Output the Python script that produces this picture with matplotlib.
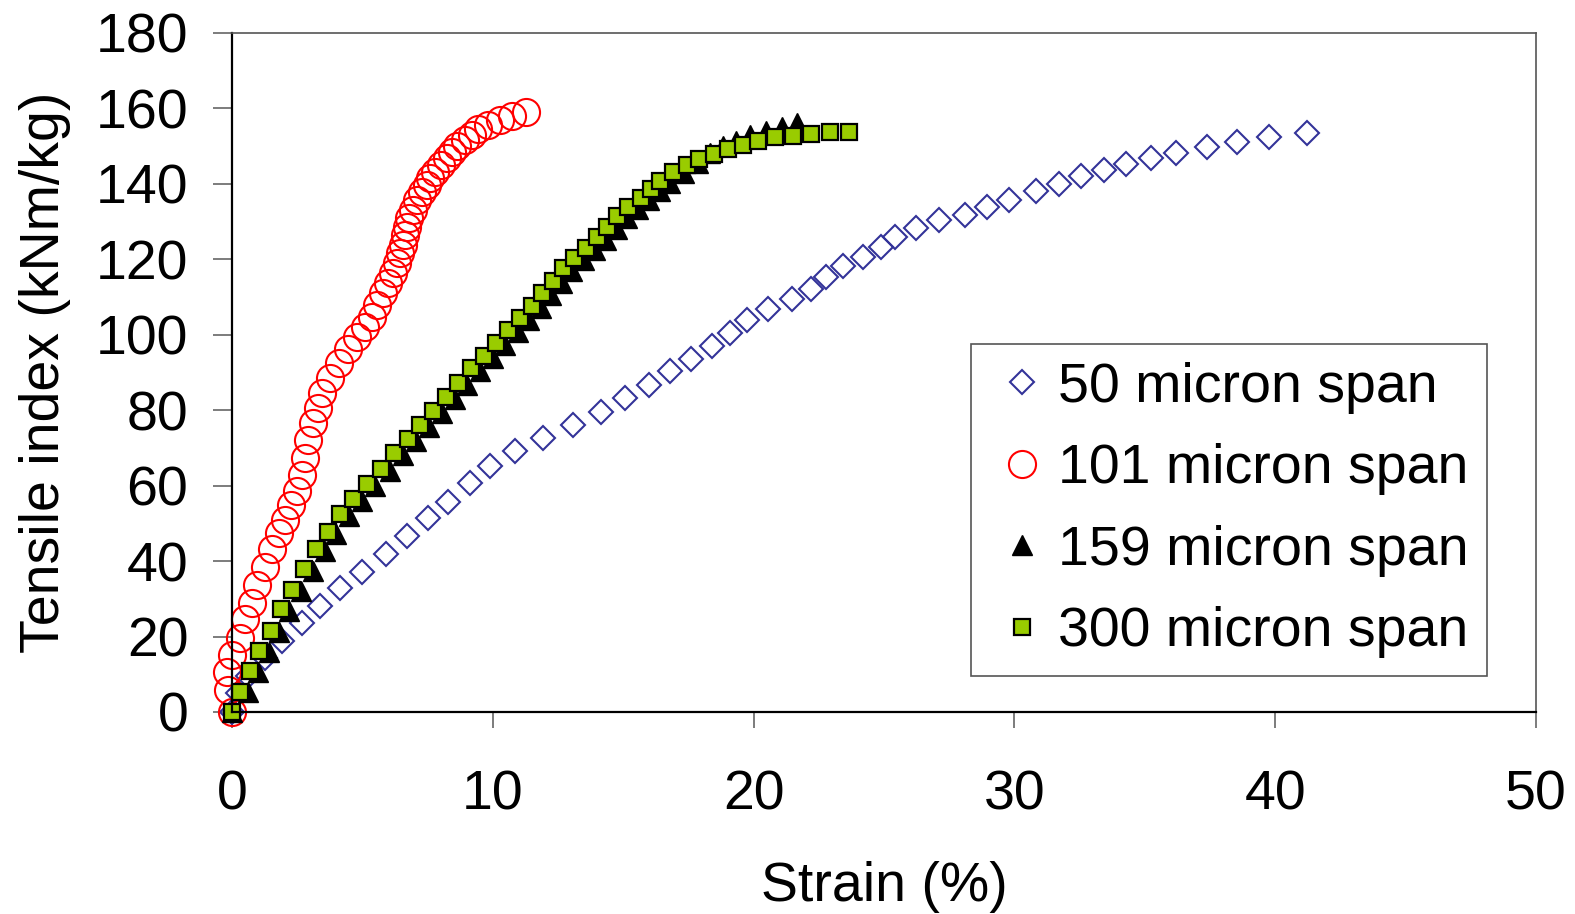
import matplotlib
matplotlib.use('Agg')
import matplotlib.pyplot as plt

# strain (%) / tensile index (kNm/kg)
strain_50 = [0.0, 0.24, 0.63, 1.27, 1.93, 2.67, 3.37, 4.14, 5.0, 5.9, 6.72, 7.5, 8.3, 9.13,
             9.89, 10.85, 11.94, 13.07, 14.15, 15.07, 16.0, 16.79, 17.6, 18.39, 19.11, 19.73,
             20.56, 21.49, 22.21, 22.79, 23.43, 24.21, 24.87, 25.42, 26.23, 27.11, 28.09,
             28.95, 29.81, 30.82, 31.71, 32.55, 33.44, 34.29, 35.22, 36.21, 37.37, 38.53,
             39.78, 41.22]
tensile_50 = [0.0, 5.1, 9.5, 14.2, 18.9, 23.5, 28.1, 32.8, 37.2, 41.8, 46.7, 51.3, 55.8, 60.6,
              65.2, 69.2, 72.6, 76.0, 79.6, 83.3, 86.7, 90.3, 93.6, 97.0, 100.4, 103.9,
              106.8, 109.5, 112.2, 115.3, 118.3, 120.7, 123.4, 126.0, 128.2, 130.4, 131.8,
              134.0, 135.8, 138.0, 140.0, 142.0, 143.7, 145.3, 146.8, 148.3, 149.8, 151.1,
              152.4, 153.6]

strain_101 = [0.0, -0.14, -0.2, 0.0, 0.3, 0.5, 0.75, 0.95, 1.25, 1.55, 1.8, 2.05, 2.25, 2.5,
              2.68, 2.8, 2.93, 3.1, 3.3, 3.45, 3.75, 4.1, 4.45, 4.8, 5.1, 5.35, 5.55, 5.8,
              6.0, 6.18, 6.31, 6.44, 6.57, 6.63, 6.7, 6.8, 6.95, 7.1, 7.27, 7.46, 7.6, 7.8,
              8.0, 8.23, 8.42, 8.62, 8.93, 9.19, 9.44, 9.83, 10.28, 10.72, 11.27]
tensile_101 = [0.0, 5.8, 10.7, 15.1, 19.5, 24.6, 29.0, 33.7, 38.4, 43.2, 47.5, 51.0, 55.0, 58.6,
               62.8, 67.3, 72.0, 76.5, 80.5, 84.5, 88.5, 92.5, 96.2, 99.4, 102.1, 104.8,
               107.9, 111.0, 113.7, 116.3, 118.9, 121.6, 123.8, 126.5, 128.7, 131.0, 133.2,
               135.7, 137.9, 139.7, 141.5, 143.2, 145.0, 146.8, 148.5, 150.1, 151.6, 153.0,
               154.5, 155.6, 156.9, 158.0, 159.0]

strain_159 = [0.0, 0.6, 1.0, 1.4, 1.8, 2.2, 2.65, 3.1, 3.55, 4.0, 4.5, 5.0, 5.5, 6.05, 6.55,
              7.05, 7.55, 8.05, 8.55, 9.0, 9.5, 10.0, 10.45, 10.95, 11.4, 11.85, 12.25,
              12.65, 13.05, 13.5, 13.9, 14.35, 14.75, 15.15, 15.55, 16.0, 16.4, 16.8, 17.35,
              17.85, 18.33, 18.82, 19.33, 19.86, 20.47, 21.08, 21.68]
tensile_159 = [0.0, 5.2, 10.6, 16.0, 21.3, 26.8, 32.0, 37.5, 42.6, 47.3, 51.9, 56.0, 60.0,
               64.0, 68.1, 71.8, 75.6, 79.3, 83.0, 86.6, 90.5, 93.9, 97.2, 100.8, 103.9,
               107.0, 110.6, 113.8, 117.0, 119.8, 122.4, 125.2, 128.1, 130.9, 133.4, 135.6,
               138.0, 140.3, 142.8, 145.6, 148.2, 150.0, 151.5, 152.9, 154.0, 155.1, 156.2]

strain_300 = [0.0, 0.31, 0.69, 1.05, 1.48, 1.88, 2.29, 2.76, 3.21, 3.67, 4.14, 4.65, 5.19,
              5.7, 6.22, 6.74, 7.2, 7.72, 8.2, 8.68, 9.15, 9.66, 10.13, 10.6, 11.04, 11.49,
              11.9, 12.31, 12.7, 13.12, 13.57, 13.98, 14.37, 14.75, 15.2, 15.67, 16.07, 16.4,
              16.9, 17.43, 17.9, 18.5, 19.0, 19.6, 20.18, 20.82, 21.52, 22.2, 22.93, 23.67]
tensile_300 = [0.0, 5.4, 10.9, 16.3, 21.6, 27.2, 32.3, 37.9, 43.1, 47.8, 52.4, 56.5, 60.4,
               64.4, 68.6, 72.3, 76.1, 79.8, 83.5, 87.1, 91.1, 94.4, 97.7, 101.3, 104.4,
               107.5, 111.2, 114.3, 117.6, 120.3, 122.9, 125.8, 128.7, 131.5, 134.0, 136.2,
               138.6, 140.8, 143.2, 145.0, 146.5, 147.9, 149.3, 150.3, 151.5, 152.5, 152.8,
               153.2, 153.7, 153.8]

labels = ['50 micron span', '101 micron span', '159 micron span', '300 micron span']

plt.rcParams['font.family'] = ['Liberation Sans', 'DejaVu Sans']

fig = plt.figure(figsize=(15.75, 9.14), dpi=100)
ax = fig.add_axes([232 / 1575, 1 - 712 / 914, (1536 - 232) / 1575, (712 - 33) / 914])

ax.plot(strain_50, tensile_50, linestyle='none', marker='D', markersize=12.5,
        markerfacecolor='none', markeredgecolor='#333399', markeredgewidth=1.5,
        clip_on=False, label=labels[0])
ax.plot(strain_101, tensile_101, linestyle='none', marker='o', markersize=19.5,
        markerfacecolor='none', markeredgecolor='#ff0000', markeredgewidth=1.5,
        clip_on=False, label=labels[1])
ax.plot(strain_159, tensile_159, linestyle='none', marker='^', markersize=15,
        markerfacecolor='black', markeredgecolor='black', markeredgewidth=1,
        clip_on=False, label=labels[2])
ax.plot(strain_300, tensile_300, linestyle='none', marker='s', markersize=12,
        markerfacecolor='#99cc00', markeredgecolor='black', markeredgewidth=1.6,
        clip_on=False, label=labels[3])

ax.set_xlim(0, 50)
ax.set_ylim(0, 180)
ax.set_xticks(range(0, 51, 10))
ax.set_yticks(range(0, 181, 20))

for side in ['left', 'bottom']:
    ax.spines[side].set_color('black')
    ax.spines[side].set_linewidth(1.6)
for side in ['top', 'right']:
    ax.spines[side].set_color('#555555')
    ax.spines[side].set_linewidth(1.2)

ax.tick_params(axis='y', direction='out', length=13.5, width=1.2, color='#666666',
               labelsize=40, pad=18)
ax.tick_params(axis='x', direction='out', length=11.5, width=1.2, color='#666666',
               labelsize=40, pad=30)

ax.set_xlabel('Strain (%)', fontsize=40, labelpad=28)
ax.set_ylabel('Tensile index (kNm/kg)', fontsize=40, labelpad=18)

leg = ax.legend(loc='upper left', bbox_to_anchor=((971 - 232) / 1304, (712 - 344) / 679),
                fontsize=40, frameon=True, fancybox=False, framealpha=1,
                edgecolor='#555555', handlelength=1.2, handletextpad=0.05,
                labelspacing=0.53, borderpad=0.32, borderaxespad=0)
leg.get_frame().set_linewidth(1.2)

fig.savefig('out.png', dpi=100)
